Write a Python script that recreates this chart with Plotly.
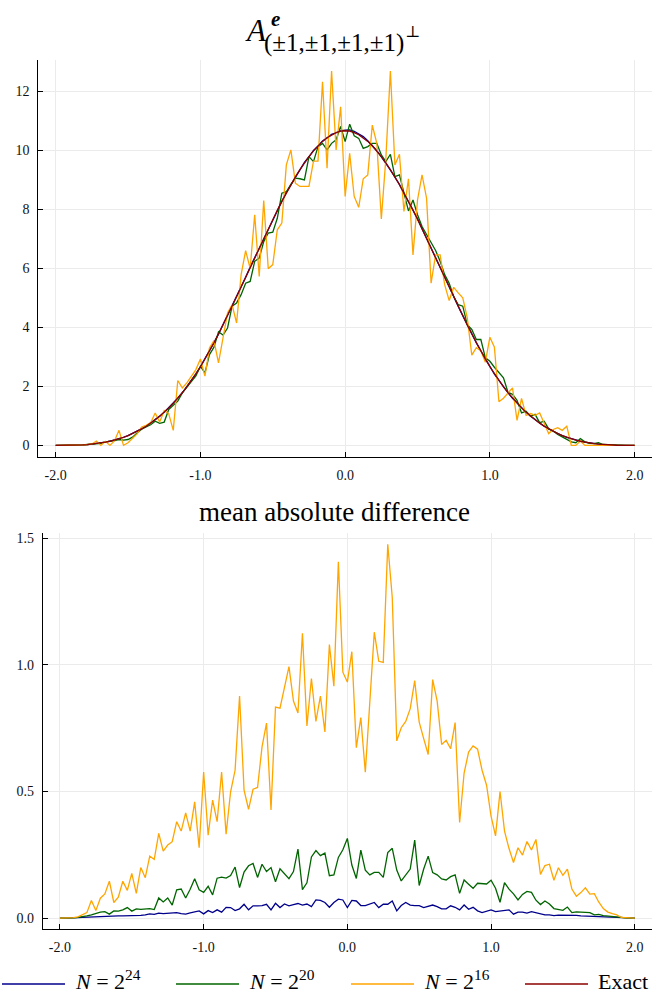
import numpy as np
import plotly.graph_objects as go

W, H = 656, 994

# grid: 129 points from -2 to 2 (step 1/32)
x = np.linspace(-2.0, 2.0, 129)

# ---------------- top panel: density estimates ----------------
exact = [
    0.0, 0.0001, 0.0007, 0.0022, 0.0052, 0.0102, 0.0176, 0.0279, 0.0417, 0.0593,
    0.0814, 0.1083, 0.1406, 0.1788, 0.2233, 0.2747, 0.3333, 0.3998, 0.4746, 0.5582,
    0.6510, 0.7537, 0.8665, 0.9901, 1.1250, 1.2716, 1.4303, 1.6018, 1.7865, 1.9848,
    2.1973, 2.4245,
    2.6667, 2.9243, 3.1960, 3.4804, 3.7761, 4.0815, 4.3952, 4.7158, 5.0417, 5.3716,
    5.7038, 6.0371, 6.3698, 6.7007, 7.0280, 7.3506, 7.6667, 7.9751, 8.2741, 8.5625,
    8.8386, 9.1011, 9.3483, 9.5791, 9.7917, 9.9848, 10.1569, 10.3066, 10.4323, 10.5326,
    10.6061, 10.6513,
    10.6667,
    10.6513, 10.6061, 10.5326, 10.4323, 10.3066, 10.1569, 9.9848, 9.7917, 9.5791, 9.3483,
    9.1011, 8.8386, 8.5625, 8.2741, 7.9751, 7.6667, 7.3506, 7.0280, 6.7007, 6.3698,
    6.0371, 5.7038, 5.3716, 5.0417, 4.7158, 4.3952, 4.0815, 3.7761, 3.4804, 3.1960,
    2.9243, 2.6667,
    2.4245, 2.1973, 1.9848, 1.7865, 1.6018, 1.4303, 1.2716, 1.1250, 0.9901, 0.8665,
    0.7537, 0.6510, 0.5582, 0.4746, 0.3998, 0.3333, 0.2747, 0.2233, 0.1788, 0.1406,
    0.1083, 0.0814, 0.0593, 0.0417, 0.0279, 0.0176, 0.0102, 0.0052, 0.0022, 0.0007,
    0.0001, 0.0,
]

dens_n24 = [
    0.0, 0.0001, 0.0008, 0.0023, 0.005, 0.0105, 0.018, 0.028, 0.042, 0.060,
    0.081, 0.109, 0.141, 0.178, 0.224, 0.276, 0.333, 0.401, 0.473, 0.560,
    0.650, 0.756, 0.864, 0.992, 1.124, 1.274, 1.428, 1.604, 1.784, 1.988,
    2.195, 2.428,
    2.664, 2.928, 3.192, 3.485, 3.772, 4.088, 4.390, 4.722, 5.036, 5.380,
    5.698, 6.045, 6.364, 6.708, 7.022, 7.360, 7.660, 7.985, 8.268, 8.575,
    8.830, 9.112, 9.340, 9.592, 9.785, 9.998, 10.150, 10.320, 10.425, 10.545,
    10.600, 10.665,
    10.69,
    10.70, 10.65, 10.56, 10.47, 10.33, 10.17, 9.99, 9.78, 9.57, 9.34,
    9.09, 8.85, 8.55, 8.28, 7.97, 7.68, 7.34, 7.04, 6.69, 6.38,
    6.03, 5.71, 5.36, 5.05, 4.71, 4.40, 4.07, 3.79, 3.47, 3.21,
    2.91, 2.675,
    2.418, 2.201, 1.980, 1.790, 1.598, 1.433, 1.268, 1.127, 0.988, 0.868,
    0.752, 0.652, 0.557, 0.476, 0.398, 0.335, 0.273, 0.224, 0.178, 0.141,
    0.108, 0.082, 0.059, 0.042, 0.028, 0.018, 0.010, 0.005, 0.002, 0.0007,
    0.0001, 0.0,
]

dens_n20 = [
    0.0, 0.0, 0.0, 0.0, 0.003, 0.008, 0.015, 0.03, 0.04, 0.05,
    0.07, 0.12, 0.13, 0.16, 0.2, 0.18, 0.2, 0.28, 0.42, 0.55,
    0.63, 0.7, 0.82, 0.75, 0.79, 1.22, 1.36, 1.5, 1.78, 1.97,
    2.14, 2.36,
    2.68, 2.46, 3.08, 3.33, 3.85, 3.74, 3.98, 4.72, 4.83, 5.11,
    5.5, 5.56, 6.24, 6.35, 6.91, 7.2, 7.23, 7.7, 8.55, 8.6,
    8.85, 9.06, 9.04, 9.0, 9.79, 9.62, 10.13, 10.24, 10.02, 10.24,
    10.36, 10.81,
    10.3,
    10.89, 10.5, 10.41, 10.07, 10.13, 10.24, 10.24, 9.85, 9.62, 9.87,
    9.11, 9.17, 8.6, 7.95, 8.32, 7.82, 7.42, 7.14, 6.86, 6.61,
    6.24, 5.79, 5.5, 5.05, 4.77, 4.72, 4.09, 3.93, 3.59, 3.59,
    2.97, 2.85,
    2.65, 2.46, 2.29, 1.8, 1.73, 1.53, 1.1, 1.16, 0.99, 1.05,
    0.77, 0.82, 0.56, 0.49, 0.37, 0.29, 0.2, 0.12, 0.09, 0.23,
    0.12, 0.07, 0.06, 0.09, 0.03, 0.02, 0.01, 0.005, 0.0, 0.0,
    0.0, 0.0,
]

dens_n16 = [
    0.0, 0.0, 0.0, 0.0, 0.0, 0.01, 0.02, 0.03, 0.05, 0.15,
    0.0, 0.14, 0.0, 0.15, 0.51, 0.0, 0.09, 0.24, 0.39, 0.62,
    0.68, 0.77, 1.1, 0.79, 1.18, 1.07, 0.51, 2.2, 1.95, 2.12,
    2.35, 2.57,
    2.93, 2.35, 3.3, 3.55, 2.8, 3.72, 4.49, 4.77, 4.15, 5.79,
    6.6, 6.0, 7.82, 5.73, 8.3, 5.99, 6.13, 7.31, 7.54, 9.51,
    10.02, 8.89, 8.78, 8.78, 8.78, 9.64, 9.64, 12.33, 9.4, 12.69,
    10.02, 11.48,
    8.44,
    9.9, 8.44, 8.07, 9.04, 9.17, 10.86, 10.24, 7.68, 9.73, 12.69,
    9.51, 9.87, 7.93, 9.04, 6.46, 8.32, 9.17, 8.38, 5.5, 6.46,
    6.46, 5.45, 4.91, 5.36, 5.17, 5.0, 4.32, 3.06, 3.31, 3.21,
    2.82, 3.67,
    3.33, 1.48, 1.6, 1.78, 1.95, 0.85, 1.59, 1.02, 1.08, 1.02,
    1.1, 0.75, 0.4, 0.54, 0.6, 0.51, 0.65, 0.0, 0.0, 0.15,
    0.0, 0.0, 0.0, 0.0, 0.0, 0.0, 0.0, 0.0, 0.0, 0.0,
    0.0, 0.0,
]

# ---------------- bottom panel: mean absolute difference ----------------
mad_n24 = [
    0.0, 0.0, 0.0, 0.001, 0.002, 0.003, 0.004, 0.005, 0.006, 0.006,
    0.007, 0.008, 0.008, 0.009, 0.009, 0.009, 0.01, 0.009, 0.011, 0.013,
    0.017, 0.015, 0.02, 0.018, 0.02, 0.02, 0.022, 0.018, 0.016, 0.021,
    0.026, 0.029,
    0.017, 0.03, 0.022, 0.033, 0.024, 0.043, 0.042, 0.03, 0.037, 0.055,
    0.033, 0.049, 0.049, 0.05, 0.055, 0.033, 0.059, 0.042, 0.056, 0.049,
    0.054, 0.058, 0.052, 0.056, 0.046, 0.072, 0.07, 0.062, 0.043, 0.062,
    0.075, 0.072,
    0.042,
    0.07, 0.068, 0.05, 0.05, 0.055, 0.062, 0.042, 0.055, 0.055, 0.068,
    0.029, 0.05, 0.062, 0.052, 0.05, 0.05, 0.042, 0.046, 0.052, 0.046,
    0.037, 0.037, 0.049, 0.043, 0.033, 0.052, 0.035, 0.043, 0.029, 0.022,
    0.026, 0.033,
    0.026, 0.029, 0.029, 0.033, 0.016, 0.024, 0.024, 0.02, 0.026, 0.022,
    0.02, 0.013, 0.013, 0.01, 0.012, 0.012, 0.011, 0.012, 0.011, 0.009,
    0.008, 0.008, 0.007, 0.007, 0.006, 0.005, 0.004, 0.003, 0.002, 0.001,
    0.0, 0.0,
]

mad_n20 = [
    0.0, 0.0, 0.0, 0.001, 0.003, 0.005, 0.009, 0.013, 0.02, 0.024,
    0.026, 0.016, 0.029, 0.028, 0.033, 0.042, 0.028, 0.037, 0.035, 0.037,
    0.038, 0.034, 0.08, 0.064, 0.08, 0.052, 0.112, 0.115, 0.08, 0.114,
    0.156, 0.112,
    0.102, 0.126, 0.092, 0.158, 0.162, 0.158, 0.168, 0.202, 0.121, 0.182,
    0.207, 0.216, 0.161, 0.213, 0.184, 0.2, 0.144, 0.195, 0.174, 0.156,
    0.184, 0.273, 0.113, 0.14, 0.242, 0.267, 0.247, 0.257, 0.168, 0.171,
    0.24, 0.27,
    0.315,
    0.21, 0.157, 0.269, 0.19, 0.171, 0.181, 0.181, 0.161, 0.259, 0.276,
    0.19, 0.147, 0.171, 0.194, 0.308, 0.129, 0.194, 0.245, 0.18, 0.171,
    0.155, 0.151, 0.164, 0.171, 0.098, 0.151, 0.134, 0.118, 0.138, 0.135,
    0.135, 0.15,
    0.118, 0.063, 0.14, 0.115, 0.096, 0.072, 0.094, 0.106, 0.102, 0.071,
    0.054, 0.068, 0.056, 0.038, 0.034, 0.031, 0.044, 0.022, 0.025, 0.024,
    0.024, 0.022, 0.013, 0.015, 0.01, 0.009, 0.008, 0.006, 0.003, 0.001,
    0.0, 0.0,
]

mad_n16 = [
    0.0, 0.0, 0.0, 0.002, 0.005, 0.012, 0.022, 0.07, 0.03, 0.079,
    0.096, 0.146, 0.062, 0.083, 0.146, 0.11, 0.177, 0.098, 0.2, 0.16,
    0.245, 0.232, 0.335, 0.265, 0.289, 0.302, 0.381, 0.344, 0.416, 0.344,
    0.459, 0.278,
    0.577, 0.328, 0.466, 0.381, 0.577, 0.332, 0.499, 0.584, 0.877, 0.505,
    0.43, 0.509, 0.516, 0.676, 0.77, 0.427, 0.833, 0.829, 0.912, 0.993,
    0.857, 0.81, 1.125, 0.759, 0.946, 0.777, 0.877, 0.735, 1.08, 0.916,
    1.407, 0.971,
    0.932,
    1.052, 0.673, 0.792, 0.576, 0.846, 1.129, 1.014, 1.01, 1.476, 1.266,
    0.7, 0.752, 0.777, 0.827, 0.938, 0.774, 0.709, 0.646, 0.942, 0.857,
    0.686, 0.702, 0.669, 0.772, 0.378, 0.573, 0.656, 0.68, 0.667, 0.584,
    0.525, 0.403,
    0.325, 0.5, 0.344, 0.275, 0.22, 0.278, 0.249, 0.303, 0.269, 0.311,
    0.173, 0.208, 0.213, 0.15, 0.199, 0.169, 0.194, 0.115, 0.087, 0.101,
    0.12, 0.095, 0.097, 0.063, 0.038, 0.024, 0.018, 0.013, 0.003, 0.001,
    0.0, 0.0,
]

for arr in (exact, dens_n24, dens_n20, dens_n16, mad_n24, mad_n20, mad_n16):
    assert len(arr) == len(x), len(arr)

# series styling / legend labels
labels = ["<i>N</i> = 2<sup>24</sup>", "<i>N</i> = 2<sup>20</sup>",
          "<i>N</i> = 2<sup>16</sup>", "Exact"]
colors = ["#00008b", "#006400", "#ffa500", "#8b0000"]

x_tickvals = [-2, -1, 0, 1, 2]
x_ticktext = ["-2.0", "-1.0", "0.0", "1.0", "2.0"]
y1_tickvals = [0, 2, 4, 6, 8, 10, 12]
y1_ticktext = ["0", "2", "4", "6", "8", "10", "12"]
y2_tickvals = [0, 0.5, 1.0, 1.5]
y2_ticktext = ["0.0", "0.5", "1.0", "1.5"]

SERIF = "Liberation Serif, DejaVu Serif, serif"
LW = 1.3

fig = go.Figure()

top_series = [dens_n24, dens_n20, dens_n16, exact]
for ys, c, lab in zip(top_series, colors, labels):
    fig.add_trace(go.Scatter(x=x, y=ys, mode="lines", name=lab,
                             line=dict(color=c, width=LW),
                             xaxis="x", yaxis="y", showlegend=False))

bottom_series = [mad_n24, mad_n20, mad_n16]
for ys, c, lab in zip(bottom_series, colors, labels):
    fig.add_trace(go.Scatter(x=x, y=ys, mode="lines", name=lab,
                             line=dict(color=c, width=LW),
                             xaxis="x2", yaxis="y2", showlegend=False))


def px_x(p):
    return p / W


def px_y(p):
    return 1 - p / H


axis_common = dict(
    showline=True, linecolor="black", linewidth=1,
    ticks="inside", ticklen=5, tickwidth=1, tickcolor="black",
    showgrid=True, gridcolor="#ebebeb", gridwidth=1,
    zeroline=False, mirror=False,
    tickfont=dict(family=SERIF, size=14, color="#111"),
    ticklabelstandoff=5,
)

fig.update_layout(
    width=W, height=H,
    margin=dict(l=0, r=0, t=0, b=0),
    paper_bgcolor="white", plot_bgcolor="white",
    showlegend=False,
    xaxis=dict(domain=[px_x(38.3), px_x(652)], range=[-2.12, 2.12],
               tickvals=x_tickvals, ticktext=x_ticktext, anchor="y",
               **axis_common),
    yaxis=dict(domain=[px_y(455.7), px_y(58)], range=[-0.386, 13.07],
               tickvals=y1_tickvals, ticktext=y1_ticktext, anchor="x",
               **axis_common),
    xaxis2=dict(domain=[px_x(42.7), px_x(652)], range=[-2.12, 2.12],
                tickvals=x_tickvals, ticktext=x_ticktext, anchor="y2",
                **axis_common),
    yaxis2=dict(domain=[px_y(929.3), px_y(532.2)], range=[-0.0443, 1.52],
                tickvals=y2_tickvals, ticktext=y2_ticktext, anchor="x2",
                **axis_common),
)

annotations = []

# top title built from pieces: A, superscript e, subscript vector, perp
annotations.append(dict(text="<i>A</i>", x=px_x(256), y=px_y(29),
                        font=dict(family=SERIF, size=31, color="black")))
annotations.append(dict(text="<b><i>e</i></b>", x=px_x(275), y=px_y(17),
                        font=dict(family=SERIF, size=21, color="black")))
annotations.append(dict(text="(±1,±1,±1,±1)", x=px_x(263), y=px_y(41),
                        xanchor="left",
                        font=dict(family=SERIF, size=25, color="black")))
annotations.append(dict(text="⊥", x=px_x(413), y=px_y(30),
                        font=dict(family=SERIF, size=16, color="black")))

# bottom title
annotations.append(dict(text="mean absolute difference", x=px_x(334), y=px_y(511),
                        font=dict(family=SERIF, size=27, color="black")))

for a in annotations:
    a.setdefault("xanchor", "center")
    a.setdefault("yanchor", "middle")
    a.update(xref="paper", yref="paper", showarrow=False, borderpad=0)

# legend row along the bottom edge
legend_x0 = [2, 176, 351, 525]
legend_len = 63
legend_y = 984
shapes = []
for lx, c, lab in zip(legend_x0, colors, labels):
    shapes.append(dict(type="line", xref="paper", yref="paper",
                       x0=px_x(lx), x1=px_x(lx + legend_len),
                       y0=px_y(legend_y), y1=px_y(legend_y),
                       line=dict(color=c, width=1.6)))
    annotations.append(dict(text=lab, x=px_x(lx + legend_len + 9), y=px_y(995),
                            xanchor="left", yanchor="bottom",
                            xref="paper", yref="paper", showarrow=False,
                            borderpad=0,
                            font=dict(family=SERIF, size=22, color="black")))

fig.update_layout(annotations=annotations, shapes=shapes)

fig.write_html("out.html")
